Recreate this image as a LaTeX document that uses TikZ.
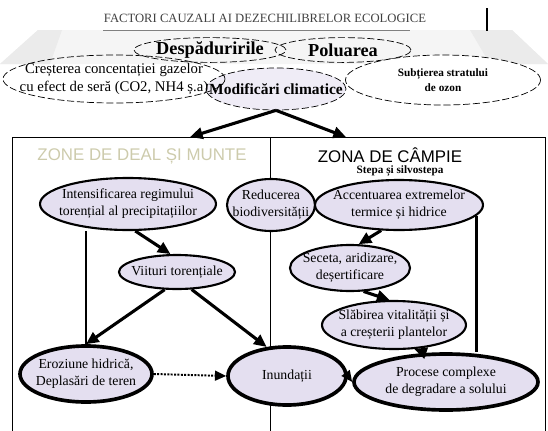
\documentclass[tikz,border=0pt]{standalone}
\usepackage{fontspec}
\setmainfont{Liberation Serif}
\newfontfamily\zonefont{Liberation Sans}
\usetikzlibrary{shapes.geometric,arrows.meta}
\definecolor{lav}{RGB}{228,223,240}
\definecolor{faded}{RGB}{205,203,172}
\begin{document}
\begin{tikzpicture}[x=0.25mm,y=-0.25mm,
  cauza/.style={ellipse,draw,dash pattern=on 5pt off 2pt,line width=0.5pt,inner xsep=-40pt,inner ysep=-10pt,align=center},
  bub/.style={ellipse,draw,fill=lav,line width=1.5pt,inner xsep=-40pt,inner ysep=-10pt,align=center,font=\fontsize{9.8}{12}\selectfont},
  mare/.style={bub,line width=2.6pt},
  sag/.style={-{Triangle[length=9pt,width=8pt]},line width=2.2pt},
  pct/.style={-{Triangle[length=8pt,width=7pt]},line width=1.4pt,densely dotted}]
\useasboundingbox (0,0) rectangle (548,430);
% fundalul estompat de sus
\fill[gray!8] (0,64) -- (38,30) -- (512,30) -- (548,64) -- cycle;
\fill[gray!16] (0,64) -- (38,30) -- (62,30) -- (50,64) -- cycle;
\fill[gray!16] (548,64) -- (512,30) -- (470,30) -- (490,64) -- cycle;
\node[text=black!75,font=\fontsize{9}{10}\selectfont] (titlu) at (265,18) {FACTORI CAUZALI AI DEZECHILIBRELOR ECOLOGICE};
\draw[gray] (103,30) -- (410,30);
\draw[line width=2pt] (487,8) -- (487,31);
% cauzele
\node[cauza,minimum width=38mm,minimum height=6.2mm,font=\fontsize{13}{15}\selectfont\bfseries] (desp) at (210,50) {Despăduririle};
\node[cauza,minimum width=34mm,minimum height=6.2mm,font=\fontsize{13}{15}\selectfont\bfseries] (pol) at (343,50) {Poluarea};
\node[cauza,fill=lav!60,minimum width=35mm,minimum height=10.5mm,font=\fontsize{11}{13}\selectfont\bfseries] (clim) at (276,89) {Modificări climatice};
\node[cauza,minimum width=55.5mm,minimum height=12mm,font=\fontsize{10.5}{12.5}\selectfont] (gaze) at (114,79) {Creșterea concentației gazelor\\cu efect de seră (CO2, NH4 ș.a)};
\node[cauza,fill=white,minimum width=48.75mm,minimum height=12.5mm,font=\fontsize{8}{11}\selectfont\bfseries] (ozon) at (443,80) {Subțierea stratului\\de ozon};
% cele doua zone
\coordinate (stsus) at (12,137);
\coordinate (drsus) at (545,137);
\coordinate (mijsus) at (270,137);
\draw[line width=0.6pt] (12,432) -- (stsus) -- (drsus) -- (545,432);
\draw[line width=0.6pt] (mijsus) -- (270,432);
\draw[sag] (clim.south) -- (190,137);
\draw[sag] (clim.south) -- (346,137);
\node[text=faded,font=\zonefont\fontsize{12}{14}\selectfont] (deal) at (142,156) {ZONE DE DEAL ȘI MUNTE};
\node[font=\zonefont\fontsize{12}{14}\selectfont] (campie) at (390,155) {ZONA DE CÂMPIE};
\node[font=\fontsize{8}{10}\selectfont\bfseries] (stepa) at (400,171) {Stepa și silvostepa};
% efectele
\node[bub,minimum width=44mm,minimum height=13mm] (intens) at (128,204) {Intensificarea regimului\\torențial al precipitațiilor};
\node[bub,minimum width=22mm,minimum height=13mm] (reduc) at (271,205) {Reducerea\\biodiversității};
\node[bub,minimum width=42mm,minimum height=12.5mm] (accent) at (399,205) {Accentuarea extremelor\\termice și hidrice};
\node[bub,minimum width=29mm,minimum height=8.5mm] (viit) at (177,272) {Viituri torențiale};
\node[bub,minimum width=30mm,minimum height=11.5mm] (sec) at (350,268) {Seceta, aridizare,\\deșertificare};
\node[bub,minimum width=36mm,minimum height=12mm] (slab) at (394,325) {Slăbirea vitalității și\\a creșterii plantelor};
\node[mare,minimum width=33mm,minimum height=14mm] (eroz) at (86,374) {Eroziune hidrică,\\Deplasări de teren};
\node[mare,minimum width=29.5mm,minimum height=14.5mm] (inund) at (287,376) {Inundații};
\node[mare,minimum width=46mm,minimum height=14mm] (proc) at (446,382) {Procese complexe\\de degradare a solului};
\draw[sag] (intens.-75) -- (viit.110);
\draw[line width=1.8pt] (eroz.north |- intens.south) -- (eroz.north);
\draw[sag] (viit.-125) -- (eroz.north);
\draw[sag] (viit.-50) -- (inund.125);
\draw[pct] (eroz.east) -- (inund.west);
\draw[pct] (inund.east) -- (proc.west);
\draw[sag] (accent.-125) -- (sec.70);
\draw[sag] (sec.-60) -- (slab.100);
\draw[sag] (proc.125) -- (slab.-50);
\draw[line width=1.8pt] (accent.-8) -- (accent.-8 |- proc.north);
\end{tikzpicture}
\end{document}
